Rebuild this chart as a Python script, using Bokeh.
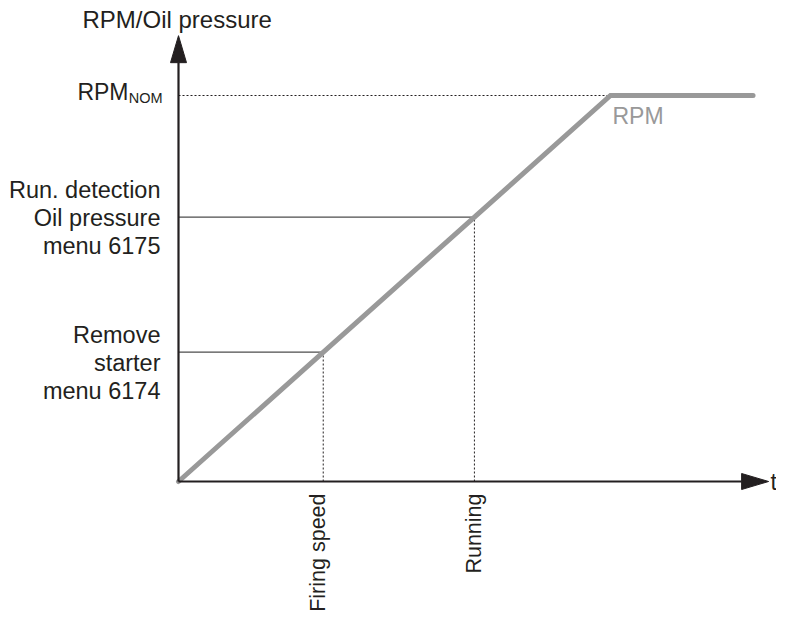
import math
from bokeh.plotting import figure
from bokeh.models import Range1d
from bokeh.core.properties import value
from bokeh.embed import file_html
from bokeh.resources import INLINE

# ---------------- data ----------------
rpm_time = [0.0, 10.0, 13.3]          # time (arbitrary units)
rpm_level = [0.0, 100.0, 100.0]       # % of nominal RPM
nominal_rpm = 100.0
event_names = ["Firing speed", "Running"]
event_time = [3.35, 6.85]
event_rpm = [33.5, 68.5]
threshold_labels = ["Remove\nstarter\nmenu 6174",
                    "Run. detection\nOil pressure\nmenu 6175"]
nominal_label = "RPM"
nominal_sub = "NOM"
curve_label = "RPM"
y_title = "RPM/Oil pressure"
x_title = "t"
axis_t_max = 13.66
axis_rpm_max = 115.5

# ---------------- layout ----------------
W, H = 776, 611
ox, oy = 178, 481            # origin in frame pixels (from top-left)
px_t, px_rpm = 43.2, 3.86    # pixels per data unit
x_start, x_end = -ox / px_t, (W - ox) / px_t
y_start, y_end = -(H - oy) / px_rpm, oy / px_rpm

INK = "#231f20"
GRAY = "#999999"
FONT = value("Liberation Sans")

p = figure(width=W, height=H, x_range=Range1d(x_start, x_end),
           y_range=Range1d(y_start, y_end), output_backend="svg",
           toolbar_location=None, min_border=0)
p.xaxis.visible = False
p.yaxis.visible = False
p.xgrid.visible = False
p.ygrid.visible = False
p.outline_line_color = None
p.background_fill_color = "white"
p.border_fill_color = "white"

# threshold guide lines
p.segment(x0=[0, 0], y0=event_rpm, x1=event_time, y1=event_rpm,
          line_color="#4d4d4d", line_width=1.2)
p.segment(x0=event_time, y0=[0, 0], x1=event_time, y1=event_rpm,
          line_color=INK, line_width=1, line_dash="2 2")
p.segment(x0=[0], y0=[nominal_rpm], x1=[rpm_time[1]], y1=[nominal_rpm],
          line_color=INK, line_width=1, line_dash="2 2")

# RPM curve
p.line(rpm_time, rpm_level, line_color=GRAY, line_width=5,
       line_cap="round", line_join="miter")

# axes with arrowheads
head_len, head_half = 27, 8
xb = axis_t_max - head_len / px_t
yb = axis_rpm_max - head_len / px_rpm
p.segment(x0=[0, 0], y0=[0, 0], x1=[xb, 0], y1=[0, yb],
          line_color=INK, line_width=2.2)
p.patches(xs=[[axis_t_max, xb, xb], [0, -head_half / px_t, head_half / px_t]],
          ys=[[0, head_half / px_rpm, -head_half / px_rpm], [axis_rpm_max, yb, yb]],
          fill_color=INK, line_color=INK, line_width=1)

# texts
p.text(x=[0], y=[axis_rpm_max], text=[y_title], x_offset=-96, y_offset=-16.5,
       text_align="left", text_baseline="middle", text_font=FONT,
       text_font_size="24px", text_color=INK)
p.text(x=[axis_t_max], y=[0], text=[x_title], x_offset=2, y_offset=0,
       text_align="left", text_baseline="middle", text_font=FONT,
       text_font_size="23px", text_color=INK)
p.text(x=[0, 0], y=event_rpm, text=threshold_labels, x_offset=-18,
       y_offset=[11, 1], text_align="right", text_baseline="middle",
       text_font=FONT, text_font_size="23.5px", text_color=INK,
       text_line_height=1.07)
p.text(x=[0], y=[nominal_rpm], text=[nominal_label], x_offset=-50, y_offset=-3.5,
       text_align="right", text_baseline="middle", text_font=FONT,
       text_font_size="23px", text_color=INK)
p.text(x=[0], y=[nominal_rpm], text=[nominal_sub], x_offset=-16, y_offset=2,
       text_align="right", text_baseline="middle", text_font=FONT,
       text_font_size="14.5px", text_color=INK)
p.text(x=[rpm_time[1]], y=[rpm_level[1]], text=[curve_label], x_offset=2,
       y_offset=20, text_align="left", text_baseline="middle",
       text_font=FONT, text_font_size="23px", text_color=GRAY)
p.text(x=event_time, y=[0, 0], text=event_names, angle=math.pi / 2,
       x_offset=[-5, 0], y_offset=12, text_align="right",
       text_baseline="middle", text_font=FONT, text_font_size="21.5px",
       text_color=INK)

open("out.html", "w").write(file_html(p, INLINE))
